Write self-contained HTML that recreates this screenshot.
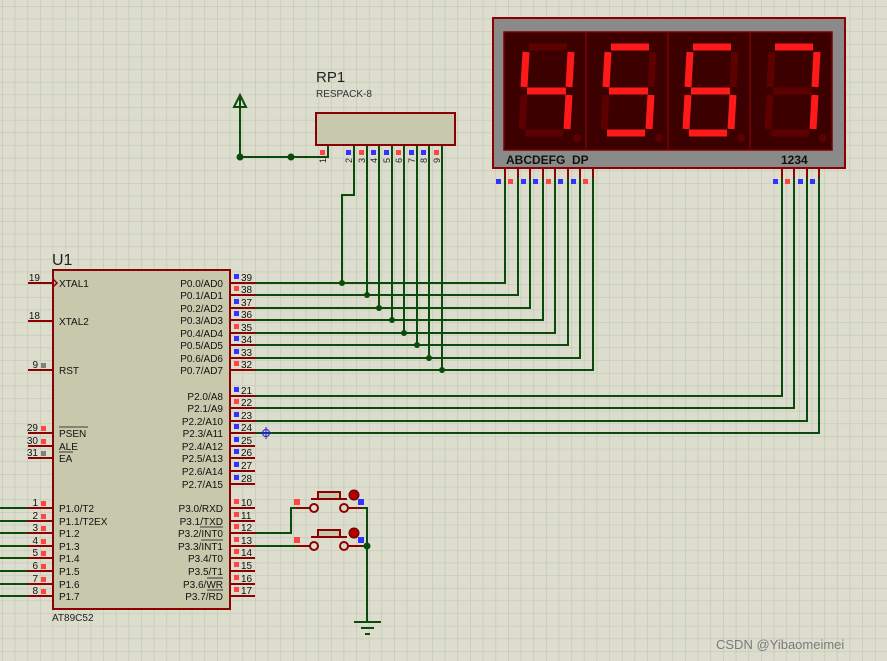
<!DOCTYPE html>
<html><head><meta charset="utf-8"><style>
html,body{margin:0;padding:0;width:887px;height:661px;overflow:hidden;background:#dcddcd}
svg{display:block}
text{font-family:"Liberation Sans",sans-serif}
</style></head><body>
<svg width="887" height="661" viewBox="0 0 887 661" xmlns="http://www.w3.org/2000/svg">
<defs>
<pattern id="g" x="2" y="6" width="12.65" height="12.65" patternUnits="userSpaceOnUse">
<path d="M0 0H12.65M0 0V12.65" stroke="#c3c5b5" stroke-width="1.3" fill="none"/>
</pattern>
</defs>
<rect width="887" height="661" fill="#dcddcd"/>
<rect width="887" height="661" fill="url(#g)"/>

<!-- Display -->
<rect x="493" y="18" width="352" height="150" fill="#8a8a8a" stroke="#8b0000" stroke-width="2"/>
<rect x="504" y="32" width="328" height="118" fill="#3c0000" stroke="#7a0000" stroke-width="1.5"/>
<g stroke="#7a0000" stroke-width="1.5"><line x1="586" y1="32" x2="586" y2="150"/><line x1="668" y1="32" x2="668" y2="150"/><line x1="750" y1="32" x2="750" y2="150"/></g>
<g stroke-width="7" stroke-linecap="butt">
<g transform="translate(504,0)">
<line x1="25" y1="47" x2="63" y2="47" stroke="#5c0000"/>
<line x1="67" y1="52" x2="65" y2="87" stroke="#ff1a1a"/>
<line x1="65" y1="95" x2="63" y2="129" stroke="#ff1a1a"/>
<line x1="21" y1="133" x2="59" y2="133" stroke="#5c0000"/>
<line x1="18" y1="129" x2="20" y2="95" stroke="#5c0000"/>
<line x1="20" y1="87" x2="22" y2="52" stroke="#ff1a1a"/>
<line x1="23" y1="91" x2="62" y2="91" stroke="#ff1a1a"/>
<circle cx="73" cy="138" r="4" fill="#5c0000" stroke="none"/>
</g>
<g transform="translate(586,0)">
<line x1="25" y1="47" x2="63" y2="47" stroke="#ff1a1a"/>
<line x1="67" y1="52" x2="65" y2="87" stroke="#5c0000"/>
<line x1="65" y1="95" x2="63" y2="129" stroke="#ff1a1a"/>
<line x1="21" y1="133" x2="59" y2="133" stroke="#ff1a1a"/>
<line x1="18" y1="129" x2="20" y2="95" stroke="#5c0000"/>
<line x1="20" y1="87" x2="22" y2="52" stroke="#ff1a1a"/>
<line x1="23" y1="91" x2="62" y2="91" stroke="#ff1a1a"/>
<circle cx="73" cy="138" r="4" fill="#5c0000" stroke="none"/>
</g>
<g transform="translate(668,0)">
<line x1="25" y1="47" x2="63" y2="47" stroke="#ff1a1a"/>
<line x1="67" y1="52" x2="65" y2="87" stroke="#5c0000"/>
<line x1="65" y1="95" x2="63" y2="129" stroke="#ff1a1a"/>
<line x1="21" y1="133" x2="59" y2="133" stroke="#ff1a1a"/>
<line x1="18" y1="129" x2="20" y2="95" stroke="#ff1a1a"/>
<line x1="20" y1="87" x2="22" y2="52" stroke="#ff1a1a"/>
<line x1="23" y1="91" x2="62" y2="91" stroke="#ff1a1a"/>
<circle cx="73" cy="138" r="4" fill="#5c0000" stroke="none"/>
</g>
<g transform="translate(750,0)">
<line x1="25" y1="47" x2="63" y2="47" stroke="#ff1a1a"/>
<line x1="67" y1="52" x2="65" y2="87" stroke="#ff1a1a"/>
<line x1="65" y1="95" x2="63" y2="129" stroke="#ff1a1a"/>
<line x1="21" y1="133" x2="59" y2="133" stroke="#5c0000"/>
<line x1="18" y1="129" x2="20" y2="95" stroke="#5c0000"/>
<line x1="20" y1="87" x2="22" y2="52" stroke="#5c0000"/>
<line x1="23" y1="91" x2="62" y2="91" stroke="#5c0000"/>
<circle cx="73" cy="138" r="4" fill="#5c0000" stroke="none"/>
</g>
</g>
<text x="506" y="164" font-size="12" font-weight="bold" fill="#111">ABCDEFG&#160;&#160;DP</text>
<text x="781" y="164" font-size="12" font-weight="bold" fill="#111">1234</text>

<g stroke="#8b0000" stroke-width="2">
<line x1="505" y1="168" x2="505" y2="178"/><line x1="518" y1="168" x2="518" y2="178"/><line x1="530" y1="168" x2="530" y2="178"/><line x1="543" y1="168" x2="543" y2="178"/><line x1="555" y1="168" x2="555" y2="178"/><line x1="568" y1="168" x2="568" y2="178"/><line x1="580" y1="168" x2="580" y2="178"/><line x1="593" y1="168" x2="593" y2="178"/>
<line x1="782" y1="168" x2="782" y2="178"/><line x1="794" y1="168" x2="794" y2="178"/><line x1="807" y1="168" x2="807" y2="178"/><line x1="819" y1="168" x2="819" y2="178"/>
</g>
<g>
<rect x="496" y="179" width="5" height="5" fill="#3333ff"/><rect x="508" y="179" width="5" height="5" fill="#ff4444"/><rect x="521" y="179" width="5" height="5" fill="#3333ff"/><rect x="533" y="179" width="5" height="5" fill="#3333ff"/><rect x="546" y="179" width="5" height="5" fill="#ff4444"/><rect x="558" y="179" width="5" height="5" fill="#3333ff"/><rect x="571" y="179" width="5" height="5" fill="#3333ff"/><rect x="583" y="179" width="5" height="5" fill="#ff4444"/>
<rect x="773" y="179" width="5" height="5" fill="#3333ff"/><rect x="785" y="179" width="5" height="5" fill="#ff4444"/><rect x="798" y="179" width="5" height="5" fill="#3333ff"/><rect x="810" y="179" width="5" height="5" fill="#3333ff"/>
</g>

<g stroke="#0a4a0a" stroke-width="2" fill="none">
<polyline points="255,283 505,283 505,178"/>
<polyline points="255,295 518,295 518,178"/>
<polyline points="255,308 530,308 530,178"/>
<polyline points="255,320 543,320 543,178"/>
<polyline points="255,333 555,333 555,178"/>
<polyline points="255,345 568,345 568,178"/>
<polyline points="255,358 580,358 580,178"/>
<polyline points="255,370 593,370 593,178"/>
<polyline points="255,396 782,396 782,178"/>
<polyline points="255,408 794,408 794,178"/>
<polyline points="255,421 807,421 807,178"/>
<polyline points="255,433 819,433 819,178"/>
<polyline points="328,145 328,157 240,157 240,98"/>
<polyline points="354,145 354,195 342,195 342,283"/>
<line x1="367" y1="145" x2="367" y2="295"/>
<line x1="379" y1="145" x2="379" y2="308"/>
<line x1="392" y1="145" x2="392" y2="320"/>
<line x1="404" y1="145" x2="404" y2="333"/>
<line x1="417" y1="145" x2="417" y2="345"/>
<line x1="429" y1="145" x2="429" y2="358"/>
<line x1="442" y1="145" x2="442" y2="370"/>
<line x1="0" y1="508" x2="28" y2="508"/><line x1="0" y1="521" x2="28" y2="521"/><line x1="0" y1="533" x2="28" y2="533"/><line x1="0" y1="546" x2="28" y2="546"/><line x1="0" y1="558" x2="28" y2="558"/><line x1="0" y1="571" x2="28" y2="571"/><line x1="0" y1="584" x2="28" y2="584"/><line x1="0" y1="596" x2="28" y2="596"/>
<polyline points="255,533 291,533 291,508 310,508"/>
<line x1="255" y1="546" x2="310" y2="546"/>
<polyline points="348,508 367,508 367,622"/>
<line x1="348" y1="546" x2="367" y2="546"/>
<line x1="354" y1="622" x2="381" y2="622"/>
<line x1="361" y1="628" x2="374" y2="628"/>
<line x1="365" y1="634" x2="370" y2="634"/>
</g>
<path d="M234,107 L240,95 L246,107 Z" fill="none" stroke="#0a4a0a" stroke-width="2"/>
<g fill="#0a4a0a">
<circle cx="240" cy="157" r="3.5"/><circle cx="291" cy="157" r="3.5"/>
<circle cx="342" cy="283" r="3"/><circle cx="367" cy="295" r="3"/><circle cx="379" cy="308" r="3"/><circle cx="392" cy="320" r="3"/><circle cx="404" cy="333" r="3"/><circle cx="417" cy="345" r="3"/><circle cx="429" cy="358" r="3"/><circle cx="442" cy="370" r="3"/>
<circle cx="367" cy="546" r="3.5"/>
</g>

<rect x="316" y="113" width="139" height="32" fill="#c8c8ac" stroke="#8b0000" stroke-width="2"/>
<text x="316" y="82" font-size="15" fill="#222">RP1</text>
<text x="316" y="97" font-size="10" fill="#333">RESPACK-8</text>
<g>
<rect x="320" y="150" width="5" height="5" fill="#ff4444"/>
<rect x="346" y="150" width="5" height="5" fill="#3333ff"/><rect x="359" y="150" width="5" height="5" fill="#ff4444"/><rect x="371" y="150" width="5" height="5" fill="#3333ff"/><rect x="384" y="150" width="5" height="5" fill="#3333ff"/><rect x="396" y="150" width="5" height="5" fill="#ff4444"/><rect x="409" y="150" width="5" height="5" fill="#3333ff"/><rect x="421" y="150" width="5" height="5" fill="#3333ff"/><rect x="434" y="150" width="5" height="5" fill="#ff4444"/>
</g>
<g font-size="9" fill="#222">
<text transform="translate(326,163) rotate(-90)">1</text>
<text transform="translate(352,163) rotate(-90)">2</text><text transform="translate(365,163) rotate(-90)">3</text><text transform="translate(377,163) rotate(-90)">4</text><text transform="translate(390,163) rotate(-90)">5</text><text transform="translate(402,163) rotate(-90)">6</text><text transform="translate(415,163) rotate(-90)">7</text><text transform="translate(427,163) rotate(-90)">8</text><text transform="translate(440,163) rotate(-90)">9</text>
</g>

<rect x="53" y="270" width="177" height="339" fill="#c8c8ac" stroke="#8b0000" stroke-width="2"/>
<text x="52" y="265" font-size="16" fill="#222">U1</text>
<text x="52" y="621" font-size="10" fill="#222">AT89C52</text>
<g stroke="#8b0000" stroke-width="2">
<line x1="28" y1="283" x2="53" y2="283"/><line x1="28" y1="321" x2="53" y2="321"/><line x1="28" y1="370" x2="53" y2="370"/>
<line x1="28" y1="433" x2="53" y2="433"/><line x1="28" y1="446" x2="53" y2="446"/><line x1="28" y1="458" x2="53" y2="458"/>
<line x1="28" y1="508" x2="53" y2="508"/><line x1="28" y1="521" x2="53" y2="521"/><line x1="28" y1="533" x2="53" y2="533"/><line x1="28" y1="546" x2="53" y2="546"/><line x1="28" y1="558" x2="53" y2="558"/><line x1="28" y1="571" x2="53" y2="571"/><line x1="28" y1="584" x2="53" y2="584"/><line x1="28" y1="596" x2="53" y2="596"/>
<line x1="230" y1="283" x2="255" y2="283"/><line x1="230" y1="295" x2="255" y2="295"/><line x1="230" y1="308" x2="255" y2="308"/><line x1="230" y1="320" x2="255" y2="320"/><line x1="230" y1="333" x2="255" y2="333"/><line x1="230" y1="345" x2="255" y2="345"/><line x1="230" y1="358" x2="255" y2="358"/><line x1="230" y1="370" x2="255" y2="370"/>
<line x1="230" y1="396" x2="255" y2="396"/><line x1="230" y1="408" x2="255" y2="408"/><line x1="230" y1="421" x2="255" y2="421"/><line x1="230" y1="433" x2="255" y2="433"/><line x1="230" y1="446" x2="255" y2="446"/><line x1="230" y1="458" x2="255" y2="458"/><line x1="230" y1="471" x2="255" y2="471"/><line x1="230" y1="484" x2="255" y2="484"/>
<line x1="230" y1="508" x2="255" y2="508"/><line x1="230" y1="521" x2="255" y2="521"/><line x1="230" y1="533" x2="255" y2="533"/><line x1="230" y1="546" x2="255" y2="546"/><line x1="230" y1="558" x2="255" y2="558"/><line x1="230" y1="571" x2="255" y2="571"/><line x1="230" y1="584" x2="255" y2="584"/><line x1="230" y1="596" x2="255" y2="596"/>
</g>
<path d="M53,279 L57,283 L53,287" fill="none" stroke="#8b0000" stroke-width="1.5"/>
<g font-size="10" fill="#111">
<text x="59" y="287">XTAL1</text><text x="59" y="325">XTAL2</text><text x="59" y="374">RST</text>
<text x="59" y="437">PSEN</text><text x="59" y="450">ALE</text><text x="59" y="462">EA</text>
<text x="59" y="512">P1.0/T2</text><text x="59" y="525">P1.1/T2EX</text><text x="59" y="537">P1.2</text><text x="59" y="550">P1.3</text><text x="59" y="562">P1.4</text><text x="59" y="575">P1.5</text><text x="59" y="588">P1.6</text><text x="59" y="600">P1.7</text>
</g>
<g font-size="10" fill="#111" text-anchor="end">
<text x="223" y="287">P0.0/AD0</text><text x="223" y="299">P0.1/AD1</text><text x="223" y="312">P0.2/AD2</text><text x="223" y="324">P0.3/AD3</text><text x="223" y="337">P0.4/AD4</text><text x="223" y="349">P0.5/AD5</text><text x="223" y="362">P0.6/AD6</text><text x="223" y="374">P0.7/AD7</text>
<text x="223" y="400">P2.0/A8</text><text x="223" y="412">P2.1/A9</text><text x="223" y="425">P2.2/A10</text><text x="223" y="437">P2.3/A11</text><text x="223" y="450">P2.4/A12</text><text x="223" y="462">P2.5/A13</text><text x="223" y="475">P2.6/A14</text><text x="223" y="488">P2.7/A15</text>
<text x="223" y="512">P3.0/RXD</text><text x="223" y="525">P3.1/TXD</text><text x="223" y="537">P3.2/INT0</text><text x="223" y="550">P3.3/INT1</text><text x="223" y="562">P3.4/T0</text><text x="223" y="575">P3.5/T1</text><text x="223" y="588">P3.6/WR</text><text x="223" y="600">P3.7/RD</text>
</g>
<g stroke="#111" stroke-width="0.8">
<line x1="59" y1="427" x2="88" y2="427"/><line x1="59" y1="452" x2="73" y2="452"/>
<line x1="200" y1="527" x2="223" y2="527"/><line x1="201" y1="540" x2="223" y2="540"/><line x1="207" y1="578" x2="223" y2="578"/><line x1="207" y1="590" x2="223" y2="590"/>
</g>
<g font-size="10" fill="#111" text-anchor="end">
<text x="40" y="281">19</text><text x="40" y="319">18</text><text x="38" y="368">9</text>
<text x="38" y="431">29</text><text x="38" y="444">30</text><text x="38" y="456">31</text>
<text x="38" y="506">1</text><text x="38" y="519">2</text><text x="38" y="531">3</text><text x="38" y="544">4</text><text x="38" y="556">5</text><text x="38" y="569">6</text><text x="38" y="582">7</text><text x="38" y="594">8</text>
</g>
<g>
<rect x="41" y="363" width="5" height="5" fill="#808080"/>
<rect x="41" y="426" width="5" height="5" fill="#ff4444"/><rect x="41" y="439" width="5" height="5" fill="#ff4444"/><rect x="41" y="451" width="5" height="5" fill="#808080"/>
<rect x="41" y="501" width="5" height="5" fill="#ff4444"/><rect x="41" y="514" width="5" height="5" fill="#ff4444"/><rect x="41" y="526" width="5" height="5" fill="#ff4444"/><rect x="41" y="539" width="5" height="5" fill="#ff4444"/><rect x="41" y="551" width="5" height="5" fill="#ff4444"/><rect x="41" y="564" width="5" height="5" fill="#ff4444"/><rect x="41" y="577" width="5" height="5" fill="#ff4444"/><rect x="41" y="589" width="5" height="5" fill="#ff4444"/>
</g>
<g font-size="10" fill="#111">
<text x="241" y="281">39</text><text x="241" y="293">38</text><text x="241" y="306">37</text><text x="241" y="318">36</text><text x="241" y="331">35</text><text x="241" y="343">34</text><text x="241" y="356">33</text><text x="241" y="368">32</text>
<text x="241" y="394">21</text><text x="241" y="406">22</text><text x="241" y="419">23</text><text x="241" y="431">24</text><text x="241" y="444">25</text><text x="241" y="456">26</text><text x="241" y="469">27</text><text x="241" y="482">28</text>
<text x="241" y="506">10</text><text x="241" y="519">11</text><text x="241" y="531">12</text><text x="241" y="544">13</text><text x="241" y="556">14</text><text x="241" y="569">15</text><text x="241" y="582">16</text><text x="241" y="594">17</text>
</g>
<g>
<rect x="234" y="274" width="5" height="5" fill="#3333ff"/><rect x="234" y="286" width="5" height="5" fill="#ff4444"/><rect x="234" y="299" width="5" height="5" fill="#3333ff"/><rect x="234" y="311" width="5" height="5" fill="#3333ff"/><rect x="234" y="324" width="5" height="5" fill="#ff4444"/><rect x="234" y="336" width="5" height="5" fill="#3333ff"/><rect x="234" y="349" width="5" height="5" fill="#3333ff"/><rect x="234" y="361" width="5" height="5" fill="#ff4444"/>
<rect x="234" y="387" width="5" height="5" fill="#3333ff"/><rect x="234" y="399" width="5" height="5" fill="#ff4444"/><rect x="234" y="412" width="5" height="5" fill="#3333ff"/><rect x="234" y="424" width="5" height="5" fill="#3333ff"/><rect x="234" y="437" width="5" height="5" fill="#3333ff"/><rect x="234" y="449" width="5" height="5" fill="#3333ff"/><rect x="234" y="462" width="5" height="5" fill="#3333ff"/><rect x="234" y="475" width="5" height="5" fill="#3333ff"/>
<rect x="234" y="499" width="5" height="5" fill="#ff4444"/><rect x="234" y="512" width="5" height="5" fill="#ff4444"/><rect x="234" y="524" width="5" height="5" fill="#ff4444"/><rect x="234" y="537" width="5" height="5" fill="#ff4444"/><rect x="234" y="549" width="5" height="5" fill="#ff4444"/><rect x="234" y="562" width="5" height="5" fill="#ff4444"/><rect x="234" y="575" width="5" height="5" fill="#ff4444"/><rect x="234" y="587" width="5" height="5" fill="#ff4444"/>
</g>
<g stroke="#2222cc" stroke-width="1" fill="none"><circle cx="266" cy="433" r="3.5"/><line x1="266" y1="427" x2="266" y2="439"/><line x1="260" y1="433" x2="272" y2="433"/></g>

<g stroke="#8b0000" stroke-width="2" fill="none">
<line x1="296" y1="508" x2="310" y2="508"/><line x1="348" y1="508" x2="362" y2="508"/>
<circle cx="314" cy="508" r="4"/><circle cx="344" cy="508" r="4"/>
<line x1="311" y1="499" x2="347" y2="499"/>
<rect x="318" y="492" width="22" height="7" fill="#c8c8ac"/>
<line x1="296" y1="546" x2="310" y2="546"/><line x1="348" y1="546" x2="362" y2="546"/>
<circle cx="314" cy="546" r="4"/><circle cx="344" cy="546" r="4"/>
<line x1="311" y1="537" x2="347" y2="537"/>
<rect x="318" y="530" width="22" height="7" fill="#c8c8ac"/>
</g>
<circle cx="354" cy="495" r="5" fill="#b00000" stroke="#600000"/>
<circle cx="354" cy="533" r="5" fill="#b00000" stroke="#600000"/>
<rect x="294" y="499" width="6" height="6" fill="#ff4444"/><rect x="358" y="499" width="6" height="6" fill="#3333ff"/>
<rect x="294" y="537" width="6" height="6" fill="#ff4444"/><rect x="358" y="537" width="6" height="6" fill="#3333ff"/>

<text x="716" y="649" font-size="13" fill="#7a7a7a">CSDN @Yibaomeimei</text>
</svg>
</body></html>
